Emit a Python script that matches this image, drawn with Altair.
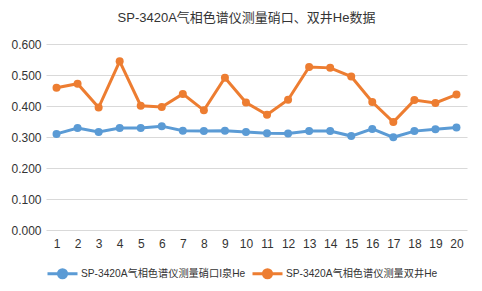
import altair as alt
import pandas as pd

runs = list(range(1, 21))
series_names = ["SP-3420A气相色谱仪测量硝口I泉He", "SP-3420A气相色谱仪测量双井He"]
xiaokou = [0.310, 0.329, 0.316, 0.329, 0.329, 0.335, 0.320, 0.319, 0.320, 0.316,
           0.312, 0.311, 0.319, 0.319, 0.303, 0.326, 0.299, 0.319, 0.325, 0.331]
shuangjing = [0.459, 0.472, 0.395, 0.544, 0.401, 0.397, 0.439, 0.386, 0.491, 0.411,
              0.372, 0.420, 0.526, 0.523, 0.495, 0.413, 0.348, 0.419, 0.410, 0.437]
y_ticks = [0.0, 0.1, 0.2, 0.3, 0.4, 0.5, 0.6]
colors = ["#5B9BD5", "#ED7D31"]

rows = []
for i, r in enumerate(runs):
    rows.append({"run": str(r), "series": series_names[0], "value": xiaokou[i], "order": 0})
    rows.append({"run": str(r), "series": series_names[1], "value": shuangjing[i], "order": 1})
df = pd.DataFrame(rows)

FONT = "Liberation Sans, Arial, Noto Sans CJK SC"
legend_symbol = "M-1,0L1,0M-0.27,0A0.27,0.27 0 1,0 0.27,0A0.27,0.27 0 1,0 -0.27,0Z"

chart = alt.Chart(df).mark_line(
    strokeWidth=3,
    point=alt.OverlayMarkDef(filled=True, size=64, opacity=1),
).encode(
    x=alt.X("run:O", sort=[str(r) for r in runs],
            scale=alt.Scale(type="point", padding=0.5),
            axis=alt.Axis(title=None, labelAngle=0, ticks=False, domain=False,
                          labelPadding=8, labelFontSize=12, labelColor="#333333",
                          labelFont=FONT, grid=False)),
    y=alt.Y("value:Q", scale=alt.Scale(domain=[0, 0.6]),
            axis=alt.Axis(title=None, values=y_ticks, format=".3f", ticks=False,
                          domain=False, labelPadding=5, labelFontSize=12,
                          labelColor="#333333", labelFont=FONT,
                          gridColor="#D9D9D9", gridWidth=1)),
    color=alt.Color("series:N", scale=alt.Scale(domain=series_names, range=colors),
                    legend=alt.Legend(title=None, orient="bottom", direction="horizontal",
                                      offset=8,
                                      symbolType=legend_symbol, symbolSize=900,
                                      symbolStrokeWidth=3, labelFontSize=10.2,
                                      labelFont=FONT, labelColor="#333333",
                                      labelLimit=300, labelOffset=2, columnPadding=0)),
    order="order:Q",
).properties(
    width=421,
    height=186,
    title=alt.TitleParams("SP-3420A气相色谱仪测量硝口、双井He数据", fontSize=13,
                          font=FONT, fontWeight="normal", color="#333333",
                          anchor="middle", offset=13, dx=-10),
    padding={"left": 38, "top": 36, "right": 7, "bottom": 53},
    autosize=alt.AutoSizeParams(type="none"),
).configure_view(stroke=None)

chart.save("out.html", embed_options={"renderer": "svg", "actions": False})
